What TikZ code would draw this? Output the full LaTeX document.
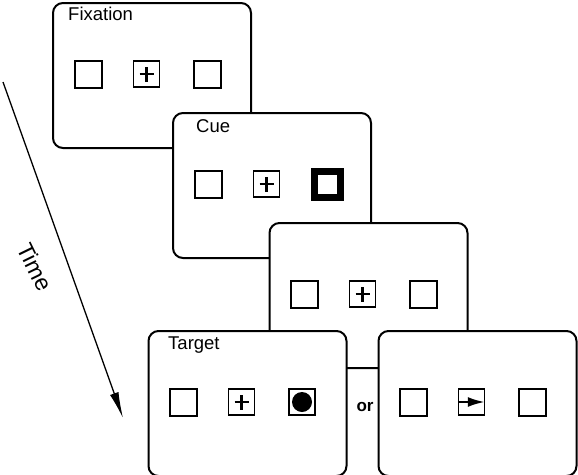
\documentclass[tikz,border=0pt]{standalone}
\usepackage{fontspec}
\setmainfont{Liberation Sans}
\usetikzlibrary{arrows.meta}
\begin{document}
\begin{tikzpicture}[x=1pt,y=-1pt,
  screen/.style={draw,line width=2pt,fill=white,rounded corners=10pt,minimum width=198pt,minimum height=145pt,inner sep=0pt},
  ph/.style={draw,line width=2pt,minimum size=27pt,inner sep=0pt},
  fixbox/.style={draw,line width=1.5pt,minimum size=26pt,inner sep=0pt},
  cuebox/.style={draw,line width=7pt,minimum size=26pt,inner sep=0pt},
  plusline/.style={line width=2.8pt},
  lbl/.style={font=\fontsize{18.5}{20}\selectfont,anchor=base west,inner sep=0pt},
  timearrow/.style={line width=1.3pt,-{Latex[length=26pt,width=9pt]}},
  targetarrow/.style={line width=2.2pt,-{Latex[length=17pt,width=10pt]}}]
\useasboundingbox (0,0) rectangle (578,474);
% Time arrow
\coordinate (ts) at (3,82);
\coordinate (te) at (123,418);
\draw[timearrow] (ts) -- (te);
\node[font=\fontsize{23}{24}\selectfont,rotate=-64,inner sep=0pt] (time) at (35,267) {Time};
% Fixation
\node[screen] (fix) at (152,75.5) {};
\node[lbl] (fixl) at (68,20) {Fixation};
\node[ph] (fa) at (88.5,74) {};
\node[fixbox] (fb) at (146.5,74) {};
\node[ph] (fc) at (207,74) {};
\draw[plusline] ([xshift=-7pt]fb.center) -- ([xshift=7pt]fb.center);
\draw[plusline] ([yshift=-7.5pt]fb.center) -- ([yshift=7.5pt]fb.center);
% Cue
\node[screen] (cue) at (272,185.5) {};
\node[lbl] (cuel) at (196,132) {Cue};
\node[ph] (ca) at (208.5,184) {};
\node[fixbox] (cb) at (266.5,184) {};
\node[cuebox] (cc) at (327,184) {};
\draw[plusline] ([xshift=-7pt]cb.center) -- ([xshift=7pt]cb.center);
\draw[plusline] ([yshift=-7.5pt]cb.center) -- ([yshift=7.5pt]cb.center);
% Interval
\node[screen] (isi) at (368.5,295.5) {};
\node[ph] (ia) at (304.5,294) {};
\node[fixbox] (ib) at (362.5,294) {};
\node[ph] (ic) at (423,294) {};
\draw[plusline] ([xshift=-7pt]ib.center) -- ([xshift=7pt]ib.center);
\draw[plusline] ([yshift=-7.5pt]ib.center) -- ([yshift=7.5pt]ib.center);
% Target
\node[screen] (tgt) at (247.5,403.5) {};
\node[lbl] (tgtl) at (168,349) {Target};
\node[ph] (ta) at (183.5,402) {};
\node[fixbox] (tb) at (241.5,402) {};
\node[fixbox] (tc) at (302,402) {};
\draw[plusline] ([xshift=-7pt]tb.center) -- ([xshift=7pt]tb.center);
\draw[plusline] ([yshift=-7.5pt]tb.center) -- ([yshift=7.5pt]tb.center);
\node[circle,fill=black,minimum size=20pt,inner sep=0pt] (dot) at (tc.center) {};
% or
\node[font=\bfseries\fontsize{17}{18}\selectfont,anchor=base,inner sep=0pt] (or) at (365,411) {or};
% Alternative target
\node[screen] (alt) at (477.5,403.5) {};
\node[ph] (aa) at (413.5,402) {};
\node[fixbox] (ab) at (471.5,402) {};
\node[ph] (ac) at (532,402) {};
\draw[targetarrow] (ab.west) -- ([xshift=-0.5pt]ab.east);
\end{tikzpicture}
\end{document}
